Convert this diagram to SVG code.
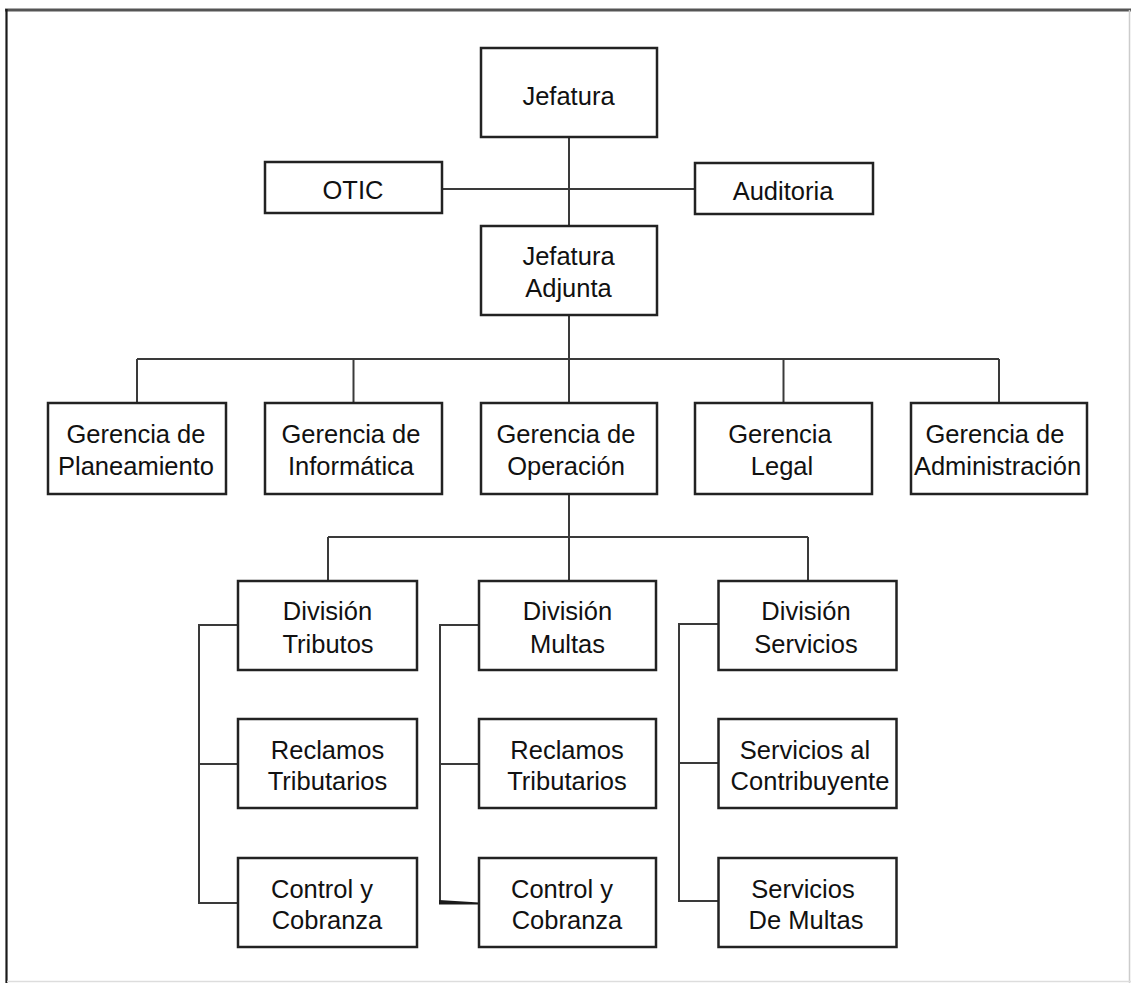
<svg xmlns="http://www.w3.org/2000/svg" width="1131" height="983" viewBox="0 0 1131 983">
  <style>
    .box { fill: #ffffff; stroke: #222222; stroke-width: 2.5; }
    .lbl { font-family: "Liberation Sans", Arial, sans-serif; font-size: 25.5px; fill: #111111; text-anchor: middle; }
    .wire { fill: none; stroke: #3a3a3a; stroke-width: 2; }
  </style>
  <rect width="1131" height="983" fill="#ffffff"/>

  <!-- page frame -->
  <g id="frame">
    <line x1="5" y1="10" x2="1131" y2="10" stroke="#555555" stroke-width="3"/>
    <line x1="6.5" y1="9" x2="6.5" y2="983" stroke="#1a1a1a" stroke-width="2.2"/>
    <line x1="1129.5" y1="10" x2="1129.5" y2="983" stroke="#cccccc" stroke-width="1.5"/>
    <line x1="7" y1="981.5" x2="1131" y2="981.5" stroke="#dddddd" stroke-width="1.5"/>
  </g>

  <!-- connectors -->
  <g id="connectors">
    <!-- top spine and staff line -->
    <line class="wire" x1="569" y1="137" x2="569" y2="226"/>
    <line class="wire" x1="442" y1="189" x2="695" y2="189" stroke-width="2.5"/>
    <!-- adjunta to gerencias -->
    <line class="wire" x1="569" y1="315" x2="569" y2="403"/>
    <line class="wire" x1="137" y1="359" x2="999" y2="359"/>
    <line class="wire" x1="137" y1="359" x2="137" y2="403"/>
    <line class="wire" x1="353.5" y1="359" x2="353.5" y2="403"/>
    <line class="wire" x1="783.5" y1="359" x2="783.5" y2="403"/>
    <line class="wire" x1="999" y1="359" x2="999" y2="403"/>
    <!-- operacion to divisions -->
    <line class="wire" x1="569" y1="494" x2="569" y2="581"/>
    <line class="wire" x1="328" y1="537" x2="808" y2="537"/>
    <line class="wire" x1="328" y1="537" x2="328" y2="581"/>
    <line class="wire" x1="808" y1="537" x2="808" y2="581"/>
    <!-- tributos column -->
    <path class="wire" d="M238 625 H199 V903 H238 M199 764 H238"/>
    <!-- multas column -->
    <path class="wire" d="M479 625 H440 V903 M440 764 H479"/>
    <path d="M439 900 L479 902.5 L479 904.5 L439 904.5 Z" fill="#1a1a1a"/>
    <!-- servicios column -->
    <path class="wire" d="M718.5 624 H679 V901 H718.5 M679 763 H718.5"/>
  </g>

  <!-- top level -->
  <g id="jefatura">
    <rect class="box" x="481" y="48" width="176" height="89"/>
    <text class="lbl" x="568.5" y="105">Jefatura</text>
  </g>
  <g id="otic">
    <rect class="box" x="265" y="162" width="177" height="51"/>
    <text class="lbl" x="353" y="199">OTIC</text>
  </g>
  <g id="auditoria">
    <rect class="box" x="695" y="163" width="178" height="51"/>
    <text class="lbl" x="783" y="200">Auditoria</text>
  </g>
  <g id="jefatura-adjunta">
    <rect class="box" x="481" y="226" width="176" height="89"/>
    <text class="lbl" x="568.5" y="265">Jefatura</text>
    <text class="lbl" x="568.5" y="297">Adjunta</text>
  </g>

  <!-- gerencias -->
  <g id="g-planeamiento">
    <rect class="box" x="48" y="403" width="178" height="91"/>
    <text class="lbl" x="136" y="443">Gerencia de</text>
    <text class="lbl" x="136" y="475">Planeamiento</text>
  </g>
  <g id="g-informatica">
    <rect class="box" x="265" y="403" width="177" height="91"/>
    <text class="lbl" x="351" y="443">Gerencia de</text>
    <text class="lbl" x="351" y="475">Informática</text>
  </g>
  <g id="g-operacion">
    <rect class="box" x="481" y="403" width="176" height="91"/>
    <text class="lbl" x="566" y="443">Gerencia de</text>
    <text class="lbl" x="566" y="475">Operación</text>
  </g>
  <g id="g-legal">
    <rect class="box" x="695" y="403" width="177" height="91"/>
    <text class="lbl" x="780" y="443">Gerencia</text>
    <text class="lbl" x="782" y="475">Legal</text>
  </g>
  <g id="g-administracion">
    <rect class="box" x="911" y="403" width="176" height="91"/>
    <text class="lbl" x="995" y="443">Gerencia de</text>
    <text class="lbl" x="997.5" y="475">Administración</text>
  </g>

  <!-- division tributos -->
  <g id="div-tributos">
    <rect class="box" x="238" y="581" width="179" height="89"/>
    <text class="lbl" x="327.5" y="620">División</text>
    <text class="lbl" x="328" y="653">Tributos</text>
  </g>
  <g id="tributos-reclamos">
    <rect class="box" x="238" y="719" width="179" height="89"/>
    <text class="lbl" x="327.5" y="759">Reclamos</text>
    <text class="lbl" x="327.5" y="790">Tributarios</text>
  </g>
  <g id="tributos-control">
    <rect class="box" x="238" y="858" width="179" height="89"/>
    <text class="lbl" x="322" y="898">Control y</text>
    <text class="lbl" x="327" y="929">Cobranza</text>
  </g>

  <!-- division multas -->
  <g id="div-multas">
    <rect class="box" x="479" y="581" width="177" height="89"/>
    <text class="lbl" x="567.5" y="620">División</text>
    <text class="lbl" x="567.5" y="653">Multas</text>
  </g>
  <g id="multas-reclamos">
    <rect class="box" x="479" y="719" width="177" height="89"/>
    <text class="lbl" x="567" y="759">Reclamos</text>
    <text class="lbl" x="567" y="790">Tributarios</text>
  </g>
  <g id="multas-control">
    <rect class="box" x="479" y="858" width="177" height="89"/>
    <text class="lbl" x="562" y="898">Control y</text>
    <text class="lbl" x="567" y="929">Cobranza</text>
  </g>

  <!-- division servicios -->
  <g id="div-servicios">
    <rect class="box" x="718.5" y="581" width="178" height="89"/>
    <text class="lbl" x="806" y="620">División</text>
    <text class="lbl" x="806" y="653">Servicios</text>
  </g>
  <g id="servicios-contribuyente">
    <rect class="box" x="718.5" y="719" width="178" height="89"/>
    <text class="lbl" x="805" y="759">Servicios al</text>
    <text class="lbl" x="810" y="790">Contribuyente</text>
  </g>
  <g id="servicios-multas">
    <rect class="box" x="718.5" y="858" width="178" height="89"/>
    <text class="lbl" x="803" y="898">Servicios</text>
    <text class="lbl" x="806" y="929">De Multas</text>
  </g>
</svg>
